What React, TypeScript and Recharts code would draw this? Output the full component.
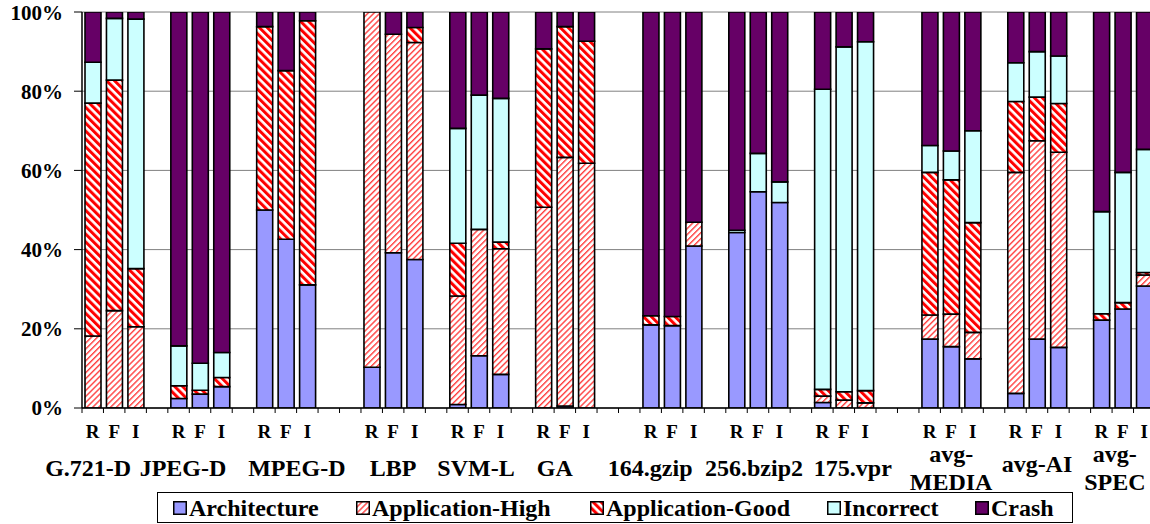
import React from 'react';
import { BarChart, Bar, XAxis, YAxis, CartesianGrid, Legend } from 'recharts';

// ---------- data ----------
const groups = ['G.721-D', 'JPEG-D', 'MPEG-D', 'LBP', 'SVM-L', 'GA', '164.gzip', '256.bzip2', '175.vpr', 'avg-MEDIA', 'avg-AI', 'avg-SPEC'];
const groupLabelLines = [['G.721-D'], ['JPEG-D'], ['MPEG-D'], ['LBP'], ['SVM-L'], ['GA'], ['164.gzip'], ['256.bzip2'], ['175.vpr'], ['avg-', 'MEDIA'], ['avg-AI'], ['avg-', 'SPEC']];
const runLetters = ['R', 'F', 'I'];
const blanksAfter = [1, 1, 2, 1, 1, 2, 1, 1, 2, 1, 1, 0];
const yTicks = [0, 20, 40, 60, 80, 100];

const architecture = [
  0, 0, 0,
  2.4, 3.5, 5.4,
  50.0, 42.6, 31.1,
  10.3, 39.2, 37.5,
  0.9, 13.2, 8.5,
  0, 0.5, 0,
  21.0, 20.8, 40.9,
  44.3, 54.6, 51.9,
  1.4, 0, 0,
  17.4, 15.5, 12.4,
  3.7, 17.4, 15.3,
  22.2, 25.0, 30.8,
];
const applicationHigh = [
  18.2, 24.6, 20.5,
  0, 0, 0,
  0, 0, 0,
  89.7, 55.2, 54.8,
  27.4, 31.9, 31.7,
  50.7, 62.8, 61.8,
  0, 0, 6.0,
  0, 0, 0,
  1.6, 2.0, 1.3,
  6.1, 8.2, 6.7,
  55.8, 50.1, 49.3,
  0, 0, 2.8,
];
const applicationGood = [
  58.8, 58.2, 14.7,
  3.2, 1.0, 2.3,
  46.3, 42.6, 66.7,
  0, 0, 3.8,
  13.3, 0, 1.7,
  40.0, 33.0, 30.8,
  2.3, 2.3, 0,
  0, 0, 0,
  1.7, 2.1, 3.1,
  36.0, 33.9, 27.7,
  17.9, 11.0, 12.3,
  1.6, 1.6, 0.6,
];
const incorrect = [
  10.3, 15.6, 63.0,
  10.1, 6.8, 6.3,
  0, 0, 0,
  0, 0, 0,
  29.0, 33.9, 36.3,
  0, 0, 0,
  0, 0, 0,
  0.6, 9.7, 5.2,
  75.8, 87.1, 88.1,
  6.8, 7.3, 23.2,
  9.8, 11.5, 12.0,
  25.8, 32.9, 31.1,
];
const crash = [
  12.7, 1.6, 1.8,
  84.3, 88.7, 86.0,
  3.7, 14.8, 2.2,
  0, 5.6, 3.9,
  29.4, 21.0, 21.8,
  9.3, 3.7, 7.4,
  76.7, 76.9, 53.1,
  55.1, 35.7, 42.9,
  19.5, 8.8, 7.5,
  33.7, 35.1, 30.0,
  12.8, 10.0, 11.1,
  50.4, 40.5, 34.7,
];

// ---------- styles / layout ----------
const FONT = "'Liberation Serif', 'Times New Roman', serif";
const CHART_W = 1160;
const CHART_H = 524;
const MARGIN = { top: 12, right: 5, left: 0, bottom: 16 };
const Y_AXIS_W = 82;
const X_AXIS_H = 100;
const PLOT_W = CHART_W - MARGIN.left - MARGIN.right - Y_AXIS_W;
// label nudges (style only) relative to group middle tick
const LABEL_DX = [-26, -17, 11, 0, -3, -10, -22, -4, 9, 0, 0, -8];
const LABEL_DY = [0, 0, 0, 0, 0, 0, 0, 0, 0, 0, -4, 0];
const LEGEND_ITEM_W = [183, 234, 237, 148, 100];

const SERIES = [
  { key: 'architecture', name: 'Architecture', fill: '#9999FF' },
  { key: 'applicationHigh', name: 'Application-High', fill: 'url(#patHigh)' },
  { key: 'applicationGood', name: 'Application-Good', fill: 'url(#patGood)' },
  { key: 'incorrect', name: 'Incorrect', fill: '#CCFFFF' },
  { key: 'crash', name: 'Crash', fill: '#660066' },
];

type Row = {
  id: string;
  letter?: string;
  group?: number;
  isMid?: boolean;
  [k: string]: any;
};

const rows: Row[] = [];
let blankCount = 0;
groups.forEach((g, gi) => {
  runLetters.forEach((l, ri) => {
    const i = gi * 3 + ri;
    rows.push({
      id: `${g}-${l}`,
      letter: l,
      group: gi,
      isMid: ri === 1,
      architecture: architecture[i],
      applicationHigh: applicationHigh[i],
      applicationGood: applicationGood[i],
      incorrect: incorrect[i],
      crash: crash[i],
    });
  });
  for (let b = 0; b < blanksAfter[gi]; b++) {
    rows.push({ id: `blank-${blankCount++}` });
  }
});

const BW = PLOT_W / rows.length;

const XTick = (props: any) => {
  const { x, y } = props;
  const index = props.index ?? props.payload?.index;
  const row = rows[index];
  if (!row) return null;
  const textStyle = { fontFamily: FONT, fontWeight: 'bold' as const, fill: '#000' };
  const out: any[] = [];
  out.push(<line key="t" x1={x - BW / 2} x2={x - BW / 2} y1={y} y2={y + 5} stroke="#000" strokeWidth={1} />);
  if (index === rows.length - 1) {
    out.push(<line key="t2" x1={x + BW / 2} x2={x + BW / 2} y1={y} y2={y + 5} stroke="#000" strokeWidth={1} />);
  }
  if (row.letter) {
    out.push(
      <text key="l" x={x} y={y + 30} textAnchor="middle" fontSize={19} {...textStyle}>
        {row.letter}
      </text>
    );
  }
  if (row.isMid && row.group !== undefined) {
    const gi = row.group;
    const lines = groupLabelLines[gi];
    const cx = x + LABEL_DX[gi];
    if (lines.length === 1) {
      out.push(
        <text key="g" x={cx} y={y + 68 + LABEL_DY[gi]} textAnchor="middle" fontSize={24} {...textStyle}>
          {lines[0]}
        </text>
      );
    } else {
      lines.forEach((ln, li) => {
        out.push(
          <text key={`g${li}`} x={cx} y={y + 54 + li * 28 + LABEL_DY[gi]} textAnchor="middle" fontSize={24} {...textStyle}>
            {ln}
          </text>
        );
      });
    }
  }
  return <g>{out}</g>;
};

const LegendContent = (props: any) => {
  const payload = [...(props.payload || [])].sort(
    (a: any, b: any) =>
      SERIES.findIndex((s) => s.key === a.dataKey) - SERIES.findIndex((s) => s.key === b.dataKey)
  );
  return (
    <div
      style={{
        boxSizing: 'border-box',
        width: '100%',
        height: '100%',
        border: '1px solid #000',
        display: 'flex',
        alignItems: 'center',
        paddingLeft: 15,
        fontFamily: FONT,
        fontWeight: 'bold',
        fontSize: 24,
        lineHeight: 1,
        color: '#000',
        background: '#fff',
      }}
    >
      {payload.map((e: any, i: number) => (
        <div key={e.value} style={{ width: LEGEND_ITEM_W[i], flex: 'none', display: 'flex', alignItems: 'center' }}>
          <svg width={14} height={14} style={{ marginRight: 2, flex: 'none', display: 'block' }}>
            <rect x={0.75} y={0.75} width={12.5} height={12.5} fill={e.color} stroke="#000" strokeWidth={1.5} />
          </svg>
          <span style={{ whiteSpace: 'nowrap' }}>{e.value}</span>
        </div>
      ))}
    </div>
  );
};

export default function App() {
  return (
    <div style={{ position: 'absolute', left: 0, top: 0, width: 1150, height: 524, overflow: 'hidden', background: '#fff' }}>
      <BarChart width={CHART_W} height={CHART_H} data={rows} margin={MARGIN} barSize={16}>
        <defs>
          <pattern id="patHigh" patternUnits="userSpaceOnUse" width={4.2} height={4.2} patternTransform="rotate(45)">
            <rect x={0} y={0} width={4.2} height={4.2} fill="#ffffff" />
            <rect x={0} y={0} width={1.4} height={4.2} fill="#ff4040" />
          </pattern>
          <pattern id="patGood" patternUnits="userSpaceOnUse" width={5.6} height={5.6} patternTransform="rotate(-45)">
            <rect x={0} y={0} width={5.6} height={5.6} fill="#ffffff" />
            <rect x={0} y={0} width={3} height={5.6} fill="#ff0000" />
          </pattern>
        </defs>
        <CartesianGrid vertical={false} stroke="#808080" strokeWidth={1} />
        <XAxis
          dataKey="id"
          interval={0}
          height={X_AXIS_H}
          tickLine={false}
          tickSize={0}
          tickMargin={0}
          axisLine={{ stroke: '#000', strokeWidth: 1.5 }}
          tick={(p: any) => <XTick {...p} />}
        />
        <YAxis
          width={Y_AXIS_W}
          domain={[0, 100]}
          ticks={yTicks}
          allowDataOverflow
          tickFormatter={(v: number) => `${v}%`}
          tickSize={8}
          tickMargin={11}
          tickLine={{ stroke: '#000' }}
          axisLine={{ stroke: '#000', strokeWidth: 1.5 }}
          tick={{ fontSize: 21, fontWeight: 'bold', fontFamily: FONT, fill: '#000' }}
        />
        {SERIES.map((s) => (
          <Bar
            key={s.key}
            dataKey={s.key}
            name={s.name}
            stackId="a"
            fill={s.fill}
            stroke="#000"
            strokeWidth={1.6}
            isAnimationActive={false}
          />
        ))}
        <Legend
          layout="horizontal"
          verticalAlign="middle"
          align="center"
          wrapperStyle={{ left: 157, top: 492, width: 916, height: 31 }}
          content={(p: any) => <LegendContent {...p} />}
        />
      </BarChart>
    </div>
  );
}
